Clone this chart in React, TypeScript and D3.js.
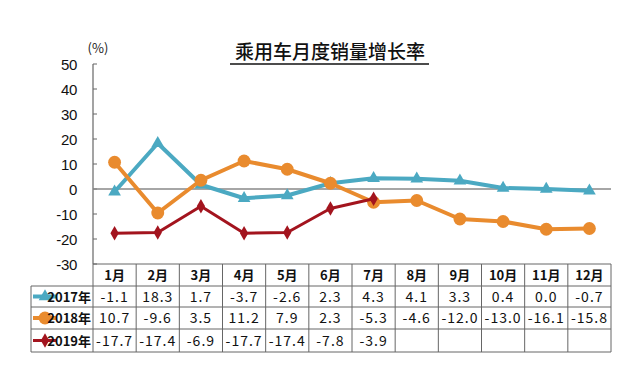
import React from 'react';
import * as d3 from 'd3';

const months = ['1月', '2月', '3月', '4月', '5月', '6月', '7月', '8月', '9月', '10月', '11月', '12月'];
const yTicks = [50, 40, 30, 20, 10, 0, -10, -20, -30];
const s2017 = [-1.1, 18.3, 1.7, -3.7, -2.6, 2.3, 4.3, 4.1, 3.3, 0.4, 0.0, -0.7];
const s2018 = [10.7, -9.6, 3.5, 11.2, 7.9, 2.3, -5.3, -4.6, -12.0, -13.0, -16.1, -15.8];
const s2019 = [-17.7, -17.4, -6.9, -17.7, -17.4, -7.8, -3.9];

const series = [
  { name: '2017年', values: s2017, color: '#4BA9C2', marker: 'triangle', width: 4 },
  { name: '2018年', values: s2018, color: '#E98B2E', marker: 'circle', width: 4 },
  { name: '2019年', values: s2019, color: '#A3141E', marker: 'diamond', width: 3 },
];

const App: React.FC = () => {
  const width = 640;
  const height = 367;
  const left = 93;
  const right = 611;
  const top = 64;
  const bottom = 264;
  const tableLeft = 31;
  const rowLines = [264, 286, 307, 329, 352];

  const x = d3.scaleBand<string>().domain(months).range([left, right]).paddingInner(0).paddingOuter(0);
  const y = d3.scaleLinear().domain([-30, 50]).range([bottom, top]);
  const cx = (i: number) => (x(months[i]) as number) + x.bandwidth() / 2;

  const line = d3.line<number>()
    .x((_, i) => cx(i))
    .y((d) => y(d));

  const symbolFor = (m: string) => {
    if (m === 'triangle') return d3.symbol().type(d3.symbolTriangle).size(70)();
    if (m === 'circle') return d3.symbol().type(d3.symbolCircle).size(130)();
    return d3.symbol().type(d3.symbolDiamond).size(60)();
  };

  const cjk = '"Noto Sans CJK SC", "Noto Sans", sans-serif';
  const fmt = (v: number) => v.toFixed(1);

  return (
    <svg width={width} height={height} style={{ position: 'absolute', left: 0, top: 0, background: '#fff' }}>
      <rect width={width} height={height} fill="#fff" />
      {/* title */}
      <text x={330} y={59} textAnchor="middle" fontFamily={cjk} fontSize={19} fontWeight={500} fill="#111">乘用车月度销量增长率</text>
      <line x1={230} x2={429} y1={64} y2={64} stroke="#111" strokeWidth={1.3} />
      <text x={98} y={53} textAnchor="middle" fontFamily={cjk} fontSize={13} fill="#222">(%)</text>

      {/* y axis */}
      <line x1={left} x2={left} y1={top} y2={bottom} stroke="#666" strokeWidth={1.2} />
      {yTicks.map((t) => (
        <g key={t}>
          <line x1={left} x2={left + 4} y1={y(t)} y2={y(t)} stroke="#666" strokeWidth={1} />
          <text x={77} y={y(t) + 5.5} textAnchor="end" fontFamily='"Liberation Sans", Arial, sans-serif' fontSize={15} fill="#111" letterSpacing={-0.3}>{t}</text>
        </g>
      ))}
      <line x1={left} x2={right} y1={y(0)} y2={y(0)} stroke="#888" strokeWidth={1.5} />

      {/* series */}
      {series.map((s) => (
        <g key={s.name}>
          <path d={line(s.values) as string} fill="none" stroke={s.color} strokeWidth={s.width} strokeLinejoin="round" />
          {s.values.map((v, i) => (
            <path key={i} d={symbolFor(s.marker) as string} transform={`translate(${cx(i)},${y(v)})`} fill={s.color} />
          ))}
        </g>
      ))}

      {/* table */}
      <g stroke="#666" strokeWidth={1} fill="none">
        <line x1={left} x2={right} y1={rowLines[0]} y2={rowLines[0]} />
        {rowLines.slice(1).map((ry) => (
          <line key={ry} x1={tableLeft} x2={right} y1={ry} y2={ry} />
        ))}
        <line x1={tableLeft} x2={tableLeft} y1={rowLines[1]} y2={rowLines[4]} />
        <line x1={left} x2={left} y1={rowLines[0]} y2={rowLines[4]} />
        {months.map((m) => (
          <line key={m} x1={(x(m) as number) + x.bandwidth()} x2={(x(m) as number) + x.bandwidth()} y1={rowLines[0]} y2={rowLines[4]} />
        ))}
      </g>
      {months.map((m, i) => (
        <text key={m} x={cx(i)} y={rowLines[0] + 16} textAnchor="middle" fontFamily={cjk} fontSize={13} fontWeight={700} fill="#111">{m}</text>
      ))}
      {series.map((s, r) => {
        const ty = (rowLines[r + 1] + rowLines[r + 2]) / 2;
        return (
          <g key={s.name}>
            <line x1={tableLeft + 2} x2={tableLeft + 26} y1={ty} y2={ty} stroke={s.color} strokeWidth={s.width} />
            <path d={symbolFor(s.marker) as string} transform={`translate(${tableLeft + 14},${ty})`} fill={s.color} />
            <text x={left - 2} y={ty + 5} textAnchor="end" fontFamily={cjk} fontSize={13} fontWeight={700} fill="#111">{s.name}</text>
            {s.values.map((v, i) => (
              <text key={i} x={cx(i)} y={ty + 5} textAnchor="middle" fontFamily={cjk} fontSize={14} fill="#111" letterSpacing={1}>{fmt(v)}</text>
            ))}
          </g>
        );
      })}
    </svg>
  );
};

export default App;
